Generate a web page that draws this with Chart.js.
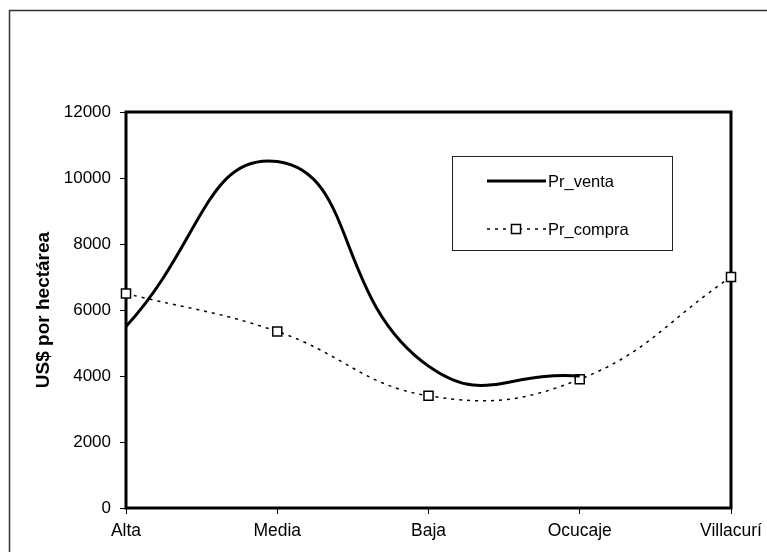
<!DOCTYPE html>
<html>
<head>
<meta charset="utf-8">
<script src="https://cdn.jsdelivr.net/npm/chart.js@4/dist/chart.umd.min.js"></script>
<style>
html, body { margin: 0; background: #fff; }
canvas { display: block; }
</style>
</head>
<body>
<canvas id="chart" width="767" height="552"></canvas>
<script>
const zonas = ['Alta', 'Media', 'Baja', 'Ocucaje', 'Villacurí'];
const prVenta = [5500, 10500, 4300, 4000, null];
const prCompra = [6500, 5350, 3400, 3900, 7000];
const yMin = 0;
const yMax = 12000;
const yStep = 2000;

const FONT = '"Liberation Sans", Arial, sans-serif';

// outer frame of the whole figure, open to the right and bottom
const outerFrame = {
    id: 'outerFrame',
    beforeDraw(chart) {
        const ctx = chart.ctx;
        ctx.save();
        ctx.fillStyle = '#fff';
        ctx.fillRect(0, 0, chart.width, chart.height);
        ctx.strokeStyle = '#333';
        ctx.lineWidth = 1.5;
        ctx.strokeRect(9.5, 10.5, 900, 700);
        ctx.restore();
    },
};

// heavy box round the plot area, drawn under the markers
const plotFrame = {
    id: 'plotFrame',
    beforeDatasetsDraw(chart) {
        const { left, top, right, bottom } = chart.chartArea;
        const ctx = chart.ctx;
        ctx.save();
        ctx.strokeStyle = '#000';
        ctx.lineWidth = 3;
        ctx.strokeRect(left, top, right - left, bottom - top);
        ctx.restore();
    },
};

// boxed legend sitting inside the plot
const boxLegend = {
    id: 'boxLegend',
    afterDraw(chart) {
        const ctx = chart.ctx;
        const x0 = 452, y0 = 156, w = 220, h = 94;
        ctx.save();
        ctx.fillStyle = '#fff';
        ctx.fillRect(x0, y0, w, h);
        ctx.strokeStyle = '#222';
        ctx.lineWidth = 1;
        ctx.strokeRect(x0 + 0.5, y0 + 0.5, w, h);

        const rows = [181, 229];
        chart.data.datasets.forEach((ds, i) => {
            const y = rows[i];
            ctx.strokeStyle = ds.borderColor;
            ctx.lineWidth = ds.borderWidth;
            ctx.setLineDash(ds.borderDash || []);
            ctx.beginPath();
            ctx.moveTo(487, y);
            ctx.lineTo(546, y);
            ctx.stroke();
            ctx.setLineDash([]);
            if (ds.pointRadius > 0) {
                ctx.fillStyle = ds.pointBackgroundColor;
                ctx.strokeStyle = ds.pointBorderColor;
                ctx.lineWidth = ds.pointBorderWidth;
                const s = ds.pointRadius * Math.SQRT1_2;
                ctx.fillRect(516 - s, y - s, 2 * s, 2 * s);
                ctx.strokeRect(516 - s, y - s, 2 * s, 2 * s);
            }
            ctx.fillStyle = '#000';
            ctx.font = `16.5px ${FONT}`;
            ctx.textBaseline = 'middle';
            ctx.fillText(ds.label, 548, y + 1);
        });
        ctx.restore();
    },
};

new Chart(document.getElementById('chart'), {
    type: 'line',
    data: {
        labels: zonas,
        datasets: [
            {
                label: 'Pr_venta',
                data: prVenta,
                borderColor: '#000',
                borderWidth: 3,
                pointRadius: 0,
                tension: 0.5,
                clip: false,
            },
            {
                label: 'Pr_compra',
                data: prCompra,
                borderColor: '#000',
                borderWidth: 1.5,
                borderDash: [3, 5],
                pointStyle: 'rect',
                pointRadius: 6.4,
                pointBorderWidth: 1.5,
                pointBorderColor: '#000',
                pointBackgroundColor: '#fff',
                tension: 0.42,
                clip: false,
            },
        ],
    },
    options: {
        responsive: false,
        animation: false,
        layout: {
            padding: { left: 0, top: 112, right: 36, bottom: 0 },
        },
        plugins: {
            legend: { display: false },
            tooltip: { enabled: false },
        },
        scales: {
            x: {
                offset: false,
                grid: {
                    drawOnChartArea: false,
                    color: '#000',
                    lineWidth: 1,
                    tickLength: 6,
                },
                border: { display: false },
                ticks: {
                    color: '#000',
                    padding: 7,
                    maxRotation: 0,
                    autoSkip: false,
                    font: { family: FONT, size: 17.5 },
                },
                afterFit(scale) {
                    // the end labels may run past the plot edge
                    scale.height = 44;
                    scale.paddingLeft = 0;
                    scale.paddingRight = 0;
                },
            },
            y: {
                min: yMin,
                max: yMax,
                grid: {
                    drawOnChartArea: false,
                    color: '#000',
                    lineWidth: 1,
                    tickLength: 6,
                },
                border: { display: false },
                ticks: {
                    stepSize: yStep,
                    color: '#000',
                    padding: 9,
                    font: { family: FONT, size: 17 },
                    callback: (value) => String(value),
                },
                title: {
                    display: true,
                    text: 'US$ por hectárea',
                    color: '#000',
                    padding: { top: 32 },
                    font: { family: FONT, size: 19, weight: 'bold' },
                },
                afterFit(scale) {
                    scale.width = 126;
                },
            },
        },
    },
    plugins: [outerFrame, plotFrame, boxLegend],
});
</script>
</body>
</html>
